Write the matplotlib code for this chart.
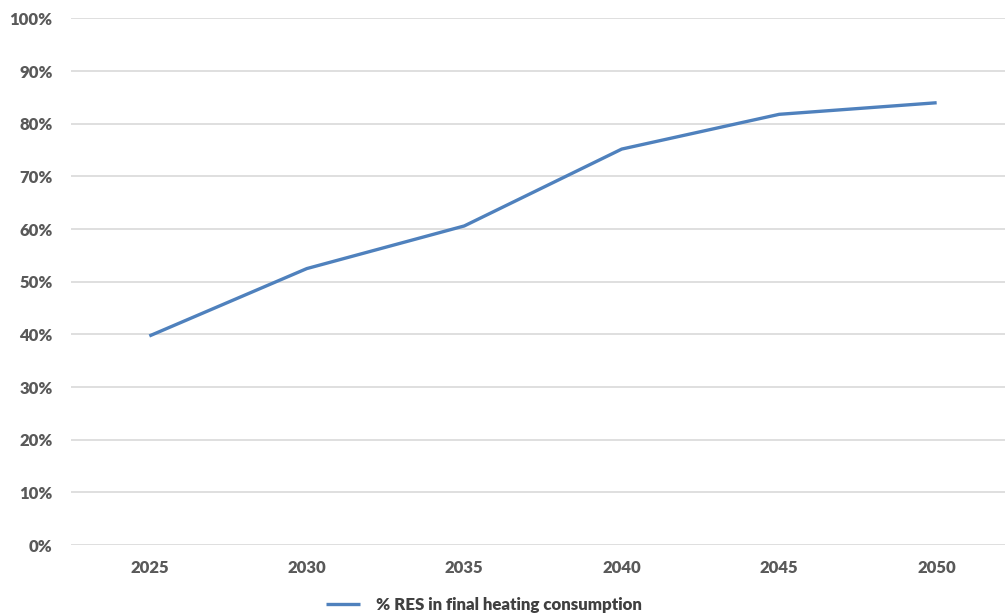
import matplotlib
matplotlib.use("Agg")
import matplotlib.pyplot as plt
from matplotlib.ticker import PercentFormatter

years = ["2025", "2030", "2035", "2040", "2045", "2050"]
res_share = [39.7, 52.5, 60.6, 75.2, 81.8, 84.0]
series_label = "% RES in final heating consumption"
y_ticks = list(range(0, 101, 10))

W, H = 1005, 614
fig = plt.figure(figsize=(W / 100, H / 100), dpi=100)
plt.rcParams["font.family"] = ["Lato", "DejaVu Sans"]

left, right = 70.6, 1015.4
top, bottom = 18.5, 545
ax = fig.add_axes([left / W, (H - bottom) / H, (right - left) / W, (bottom - top) / H])

x = list(range(len(years)))
ax.plot(x, res_share, color="#4F81BD", linewidth=2.4, solid_capstyle="butt",
        label=series_label)

ax.set_xlim(-0.5, len(years) - 0.5)
ax.set_ylim(0, 100)
ax.set_yticks(y_ticks)
ax.yaxis.set_major_formatter(PercentFormatter(decimals=0))
ax.set_xticks(x)
ax.set_xticklabels(years)

ax.grid(axis="y", color="#D9D9D9", linewidth=1.2)
ax.set_axisbelow(True)
for s in ax.spines.values():
    s.set_visible(False)
ax.tick_params(length=0, labelsize=12, labelcolor="#595959")
ax.tick_params(axis="y", pad=13)
ax.tick_params(axis="x", pad=11)
for lbl in ax.get_xticklabels() + ax.get_yticklabels():
    lbl.set_fontweight("heavy")

leg = fig.legend(loc="center", bbox_to_anchor=(484 / W, 1 - 605 / H),
                 frameon=False, handlelength=2.0, handletextpad=1.0,
                 prop={"weight": "heavy", "size": 12.2})
for t in leg.get_texts():
    t.set_color("#404040")

fig.savefig("out.png", dpi=100)
